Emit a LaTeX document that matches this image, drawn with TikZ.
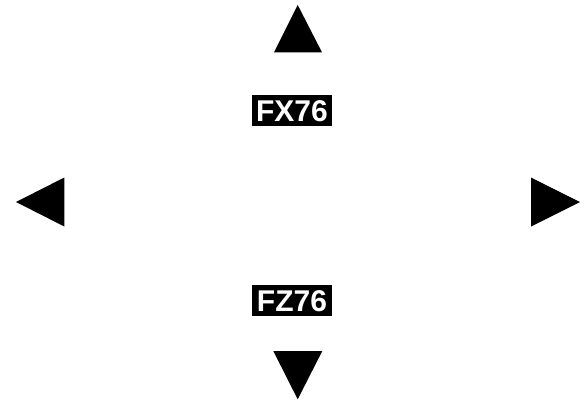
\documentclass[tikz,border=0pt]{standalone}
\usepackage{fontspec}
\setmainfont{Liberation Sans}
\begin{document}
\begin{tikzpicture}[x=1pt,y=-1pt,
  tag/.style={fill=black,text=white,font=\fontsize{30}{30}\selectfont\bfseries,
    inner xsep=4.5pt,inner ysep=4pt,text height=22.5pt,text depth=0pt},
  arrowhead/.style={fill=black}]
\useasboundingbox[fill=white] (0,0) rectangle (588,405);
\fill[arrowhead] (297.7,5) -- (274,52.3) -- (322,52.3) -- cycle;
\fill[arrowhead] (273.3,351) -- (322.3,351) -- (297.7,399.3) -- cycle;
\fill[arrowhead] (16,202) -- (64.3,177.5) -- (64.3,226.5) -- cycle;
\fill[arrowhead] (531,177.5) -- (531,226.5) -- (580,202) -- cycle;
\node[tag] (fx) at (292,110.3) {FX76};
\node[tag] (fz) at (292,300.3) {FZ76};
\end{tikzpicture}
\end{document}
